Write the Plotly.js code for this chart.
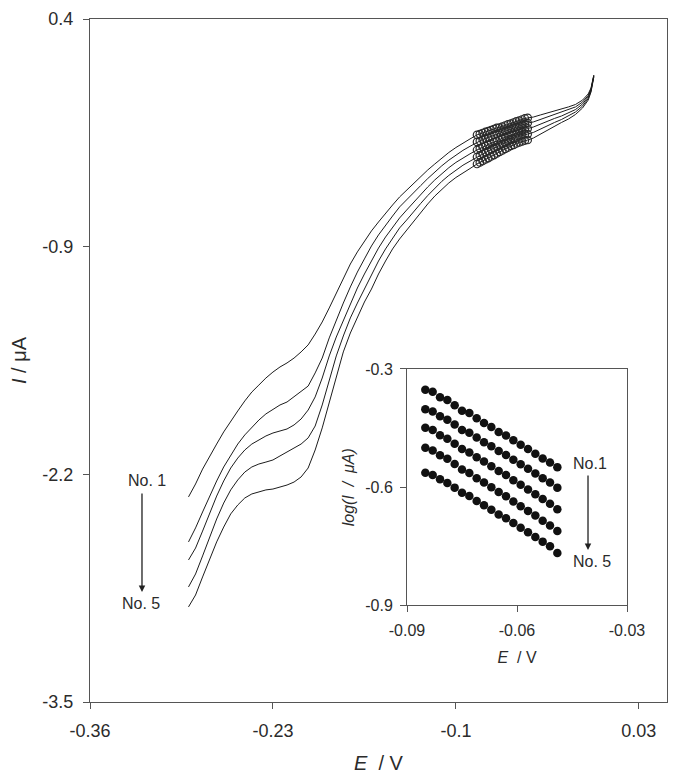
<!DOCTYPE html>
<html><head><meta charset="utf-8">
<script src="https://cdn.plot.ly/plotly-3.0.1.min.js"></script>
<style>html,body{margin:0;padding:0;background:#fff}#chart{width:679px;height:781px}</style>
</head><body><div id="chart"></div>
<script>
// ---- main chart data: potential E (V) and current I (uA) for scans No.1..No.5
const E_main = [-0.290,-0.285,-0.280,-0.275,-0.270,-0.265,-0.260,-0.255,-0.250,-0.245,-0.240,-0.235,-0.230,-0.225,-0.220,-0.215,-0.210,-0.205,-0.200,-0.195,-0.190,-0.185,-0.180,-0.175,-0.170,-0.165,-0.160,-0.155,-0.150,-0.145,-0.140,-0.135,-0.130,-0.125,-0.120,-0.115,-0.110,-0.105,-0.100,-0.095,-0.090,
 -0.085,-0.083,-0.081,-0.079,-0.077,-0.075,-0.073,-0.071,-0.069,-0.067,-0.065,-0.063,-0.061,-0.059,-0.057,-0.055,-0.053,-0.051,-0.049,
 -0.045,-0.040,-0.035,-0.030,-0.025,-0.020,-0.015,-0.010,-0.006,-0.004,-0.002];

const I_no1 = [-2.329,-2.255,-2.170,-2.095,-2.027,-1.958,-1.895,-1.838,-1.781,-1.730,-1.690,-1.650,-1.616,-1.587,-1.564,-1.536,-1.501,-1.461,-1.399,-1.330,-1.250,-1.165,-1.079,-0.999,-0.930,-0.868,-0.810,-0.759,-0.708,-0.662,-0.616,-0.576,-0.536,-0.499,-0.462,-0.428,-0.394,-0.362,-0.334,-0.308,-0.285,
 -0.262,-0.257,-0.251,-0.245,-0.240,-0.234,-0.228,-0.222,-0.220,-0.214,-0.208,-0.202,-0.197,-0.191,-0.185,-0.180,-0.174,-0.168,-0.165,
 -0.160,-0.148,-0.137,-0.125,-0.114,-0.102,-0.088,-0.063,-0.028,0.006,0.080];
const I_no2 = [-2.586,-2.506,-2.415,-2.324,-2.238,-2.158,-2.090,-2.027,-1.975,-1.930,-1.890,-1.855,-1.827,-1.804,-1.787,-1.758,-1.730,-1.696,-1.621,-1.536,-1.421,-1.319,-1.222,-1.130,-1.045,-0.970,-0.896,-0.833,-0.776,-0.725,-0.673,-0.634,-0.591,-0.551,-0.511,-0.474,-0.438,-0.406,-0.377,-0.350,-0.327,
 -0.302,-0.297,-0.288,-0.282,-0.277,-0.271,-0.262,-0.257,-0.251,-0.245,-0.240,-0.234,-0.228,-0.222,-0.217,-0.211,-0.205,-0.200,-0.194,
 -0.188,-0.174,-0.160,-0.148,-0.134,-0.120,-0.102,-0.074,-0.037,0.000,0.077];
const I_no3 = [-2.689,-2.621,-2.524,-2.421,-2.324,-2.238,-2.164,-2.107,-2.061,-2.027,-2.004,-1.981,-1.964,-1.953,-1.941,-1.918,-1.884,-1.833,-1.758,-1.650,-1.524,-1.416,-1.319,-1.222,-1.136,-1.056,-0.982,-0.908,-0.845,-0.788,-0.736,-0.691,-0.645,-0.602,-0.559,-0.519,-0.483,-0.449,-0.419,-0.393,-0.370,
 -0.348,-0.339,-0.331,-0.325,-0.317,-0.311,-0.302,-0.297,-0.288,-0.282,-0.274,-0.268,-0.262,-0.254,-0.248,-0.242,-0.237,-0.231,-0.225,
 -0.217,-0.200,-0.182,-0.168,-0.154,-0.137,-0.117,-0.085,-0.045,-0.005,0.075];
const I_no4 = [-2.843,-2.769,-2.666,-2.558,-2.455,-2.364,-2.289,-2.232,-2.187,-2.158,-2.141,-2.130,-2.118,-2.095,-2.072,-2.050,-2.027,-1.992,-1.924,-1.804,-1.661,-1.524,-1.410,-1.307,-1.222,-1.142,-1.067,-0.982,-0.913,-0.850,-0.793,-0.748,-0.699,-0.653,-0.608,-0.565,-0.527,-0.493,-0.462,-0.435,-0.412,
 -0.388,-0.379,-0.371,-0.362,-0.354,-0.345,-0.337,-0.331,-0.322,-0.314,-0.308,-0.299,-0.291,-0.285,-0.277,-0.271,-0.265,-0.259,-0.257,
 -0.248,-0.228,-0.208,-0.191,-0.174,-0.154,-0.131,-0.097,-0.054,-0.011,0.072];
const I_no5 = [-2.957,-2.889,-2.786,-2.683,-2.586,-2.501,-2.426,-2.375,-2.335,-2.312,-2.301,-2.289,-2.284,-2.272,-2.261,-2.244,-2.215,-2.164,-2.061,-1.935,-1.787,-1.650,-1.501,-1.393,-1.302,-1.216,-1.142,-1.056,-0.982,-0.913,-0.856,-0.805,-0.753,-0.705,-0.656,-0.611,-0.572,-0.536,-0.505,-0.477,-0.454,
 -0.428,-0.419,-0.411,-0.402,-0.394,-0.385,-0.377,-0.368,-0.359,-0.351,-0.342,-0.334,-0.325,-0.319,-0.311,-0.305,-0.299,-0.294,-0.291,
 -0.280,-0.257,-0.234,-0.211,-0.191,-0.171,-0.145,-0.108,-0.063,-0.017,0.069];

// Tafel-region bounds (circled points on the main curves)
const E_fit_min = -0.085, E_fit_max = -0.049;

// ---- inset data: log(I/uA) vs E
const E_inset = [-0.085,-0.083,-0.081,-0.079,-0.077,-0.075,-0.073,-0.071,-0.069,-0.067,-0.065,-0.063,-0.061,-0.059,-0.057,-0.055,-0.053,-0.051,-0.049];
const logI_no1 = [-0.353,-0.358,-0.372,-0.379,-0.392,-0.406,-0.412,-0.425,-0.437,-0.447,-0.460,-0.469,-0.481,-0.492,-0.503,-0.515,-0.527,-0.537,-0.549];
const logI_no2 = [-0.402,-0.408,-0.420,-0.429,-0.441,-0.455,-0.462,-0.474,-0.486,-0.496,-0.508,-0.518,-0.530,-0.542,-0.553,-0.565,-0.577,-0.588,-0.601];
const logI_no3 = [-0.449,-0.455,-0.468,-0.477,-0.490,-0.503,-0.512,-0.524,-0.535,-0.547,-0.559,-0.569,-0.582,-0.594,-0.606,-0.618,-0.630,-0.642,-0.656];
const logI_no4 = [-0.500,-0.507,-0.519,-0.528,-0.541,-0.555,-0.564,-0.577,-0.588,-0.600,-0.612,-0.623,-0.636,-0.648,-0.660,-0.672,-0.685,-0.697,-0.711];
const logI_no5 = [-0.563,-0.569,-0.580,-0.589,-0.601,-0.614,-0.622,-0.635,-0.646,-0.657,-0.669,-0.679,-0.691,-0.703,-0.714,-0.726,-0.738,-0.750,-0.767];

// ---- ticks
const xTickVals = [-0.36,-0.23,-0.1,0.03];
const xTickText = ['-0.36','-0.23','-0.1','0.03'];
const yTickVals = [-3.5,-2.2,-0.9,0.4];
const yTickText = ['-3.5','-2.2','-0.9','0.4'];
const x2TickVals = [-0.09,-0.06,-0.03];
const x2TickText = ['-0.09','-0.06','-0.03'];
const y2TickVals = [-0.9,-0.6,-0.3];
const y2TickText = ['-0.9','-0.6','-0.3'];

const curves = [I_no1, I_no2, I_no3, I_no4, I_no5];
const logs = [logI_no1, logI_no2, logI_no3, logI_no4, logI_no5];
const ink = '#1c1c1c';
const axisCol = '#555555';
const textCol = '#2b2b2b';

const traces = [];
curves.forEach(I => {
  traces.push({x: E_main, y: I, mode: 'lines', type: 'scatter', xaxis: 'x', yaxis: 'y',
    line: {color: ink, width: 1}, hoverinfo: 'skip'});
});
curves.forEach(I => {
  const xs = [], ys = [];
  E_main.forEach((e, i) => { if (e >= E_fit_min - 1e-9 && e <= E_fit_max + 1e-9) { xs.push(e); ys.push(I[i]); } });
  traces.push({x: xs, y: ys, mode: 'markers', type: 'scatter', xaxis: 'x', yaxis: 'y',
    marker: {symbol: 'circle-open', size: 7.5, color: '#2a2a2a', line: {width: 1.2, color: '#2a2a2a'}}, hoverinfo: 'skip'});
});
logs.forEach(L => {
  traces.push({x: E_inset, y: L, mode: 'markers', type: 'scatter', xaxis: 'x2', yaxis: 'y2',
    marker: {symbol: 'circle', size: 8.5, color: '#111111'}, hoverinfo: 'skip'});
});

const axBase = {showline: true, linecolor: axisCol, linewidth: 1, mirror: true, ticks: 'outside',
  ticklen: 6, tickcolor: axisCol, tickwidth: 1, showgrid: false, zeroline: false, tickmode: 'array'};

const ann = (x, y, text) => ({xref: 'paper', yref: 'paper', x: x, y: y, text: text, showarrow: false,
  xanchor: 'center', yanchor: 'middle', font: {size: 16, color: textCol}});
const arrow = (x, y, ay) => ({xref: 'paper', yref: 'paper', x: x, y: y, ax: 0, ay: ay, text: '', showarrow: true,
  arrowhead: 2, arrowsize: 1, arrowwidth: 1.3, arrowcolor: '#222'});

const layout = {
  width: 679, height: 781,
  margin: {l: 90, r: 12, t: 19, b: 79},
  paper_bgcolor: '#ffffff', plot_bgcolor: '#ffffff',
  showlegend: false,
  font: {family: 'Liberation Sans, Arial, sans-serif', color: textCol},
  xaxis: Object.assign({}, axBase, {domain: [0, 1], anchor: 'y', range: [-0.36, 0.05],
    tickvals: xTickVals, ticktext: xTickText, tickfont: {size: 18}, ticklabelstandoff: 6,
    title: {text: '<i>E</i>  / V', font: {size: 20}, standoff: 16}}),
  yaxis: Object.assign({}, axBase, {domain: [0, 1], anchor: 'x', range: [-3.5, 0.4],
    tickvals: yTickVals, ticktext: yTickText, tickfont: {size: 18}, ticklabelstandoff: 6,
    title: {text: '<i>I</i> / μA', font: {size: 20}, standoff: 10}}),
  xaxis2: Object.assign({}, axBase, {domain: [0.5494, 0.9307], anchor: 'y2', range: [-0.09, -0.03],
    tickvals: x2TickVals, ticktext: x2TickText, tickfont: {size: 16}, ticklabelstandoff: 4,
    title: {text: '<i>E</i>  / V', font: {size: 16}, standoff: 14}}),
  yaxis2: Object.assign({}, axBase, {domain: [0.1413, 0.4876], anchor: 'x2', range: [-0.9, -0.3],
    tickvals: y2TickVals, ticktext: y2TickText, tickfont: {size: 16}, ticklabelstandoff: 4,
    title: {text: '<i>log(I  /  μA)</i>', font: {size: 16}, standoff: 6}}),
  annotations: [
    ann(0.0988, 0.3236, 'No. 1'),
    ann(0.0884, 0.1449, 'No. 5'),
    arrow(0.0901, 0.161, -100),
    ann(0.8666, 0.3499, 'No.1'),
    ann(0.8700, 0.2050, 'No. 5'),
    arrow(0.8631, 0.2225, -76)
  ]
};

Plotly.newPlot('chart', traces, layout, {staticPlot: true, displayModeBar: false});
</script></body></html>
